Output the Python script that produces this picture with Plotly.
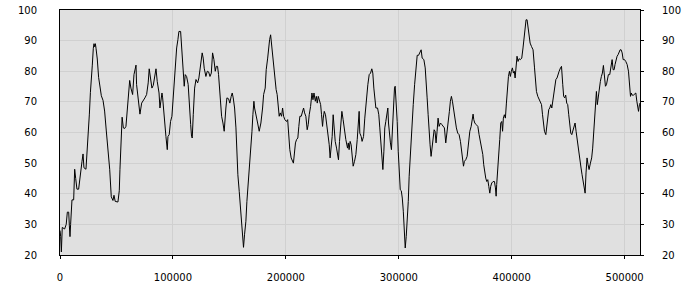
import plotly.graph_objects as go

x_vals = [
    0, 600, 1200, 2000, 4100, 5500, 6500, 7700, 8300, 8850, 9400, 10600, 12100, 13000, 13900, 15000,
    16500, 17700, 19500, 20400, 21200, 23000, 23900, 25100, 26000, 26900, 27700, 28600, 29500, 30100,
    30700, 31300, 31900, 33000, 34200, 35400, 36600, 38100, 39500, 41000, 42500, 44000, 45400, 46900,
    47800, 48900, 51300, 52500, 53100, 54300, 55000, 56100, 57200, 58400, 59600, 60800, 61700,
    62800, 64300, 65500, 66700, 67300, 67800, 69300, 70800, 72300, 73700, 75200, 76700, 78100, 79000,
    80200, 81400, 82600, 83800, 85000, 86100, 87000, 87700, 88500, 89400, 90300, 90900, 92000, 92900,
    93800, 95000, 95600, 96700, 97900, 99100, 100300, 101200, 102100, 103300, 104400, 105300, 106800,
    107700, 108600, 109400, 110000, 110900, 112100, 113500, 114400, 115700, 116500, 117100, 118000,
    119200, 120400, 121900, 123000, 123900, 124800, 125900, 126800,
    127700, 129200, 130400, 131600, 132800, 134000, 135100, 136300, 137500, 138400, 139500, 140400,
    141300, 142200, 143100, 144300, 145400, 146900, 147800, 149300, 150400, 151600, 152500, 153400,
    154600, 155800, 156600, 157500, 158700, 159900, 160800, 161700, 162500, 163400, 164600, 165500,
    166700, 167900, 168800, 170000, 170800, 171700, 172300, 173500, 175000, 176400, 177900, 179400,
    180300, 181700, 182600, 183900, 184700, 185600, 186500, 187300, 188500, 189700, 190600, 191400,
    192300, 193200, 194100, 195000, 196200, 197100, 198000, 199100, 200600, 201600, 202500, 203500,
    204700, 205900, 206700, 207600, 208500, 209500, 210600, 211500, 212400, 213600, 214800, 215700,
    216600, 217700, 218900, 219800, 220700, 221900, 223100, 224000, 224900, 226100, 227000, 227800,
    228700, 229800, 230800, 231600, 232500, 233100, 234000, 235100, 236000, 237200, 238400, 239200,
    240100, 241000, 241900, 242800, 243700, 244900, 245700, 246600, 247500, 248400, 249600, 250700,
    251900, 253100,
    254600, 255300, 256000, 256900, 257800, 258700, 259600, 260800, 262000, 263200, 264400, 264900,
    265500, 266700, 267500, 268800, 269900, 270800, 271700, 272600, 273800, 275000, 276100, 277000,
    277900, 278800, 279700, 281200, 282300, 283200, 284100, 285000, 285900, 286800, 287600, 288500,
    289400, 290300, 290900, 291800, 292600, 293500, 294400, 295300, 296200, 296800, 297700, 298600,
    299500, 300400, 301300, 302200, 303100, 304000, 304900, 305700, 306600, 307500, 308400, 309200,
    310400, 311600, 312800, 314000, 315100, 316300, 317500,
    318600, 319800, 320700, 322200, 323400, 324200, 325100, 326000, 326800, 327700, 328600, 329500,
    330400, 331300, 332100, 333000, 333900, 334800, 335700, 336900, 338100, 339200, 340400, 341600,
    342800, 343900, 344800, 345700, 346600, 347500, 348700, 349800, 351000, 352200, 353400, 354600,
    355500, 356400, 357300, 358100, 359300, 360500, 361700, 362900, 364100, 364900, 365800, 366400,
    367300, 368500, 370000, 371100, 372300, 373500, 374400, 375200, 376100, 377000, 377900, 378800,
    379700, 380600, 381400, 382300,
    383500, 384700, 385600, 386200, 386700, 387600, 388500, 389400, 390300, 391200, 391900, 392600,
    393500, 394400, 395300, 396200, 397100, 398000, 398800, 399700, 400600, 401500, 402300, 403000,
    403800, 404700, 405600, 406500, 407700, 408900, 410000, 410900, 411800, 412700, 413600, 414500,
    415400, 416300, 417500, 418900, 420200, 421000, 421900, 423100, 424300, 425500, 426400, 427300,
    428100, 429000, 430200, 431100, 432000, 432800, 433700, 434600, 435500, 436400, 437300, 438200,
    439100, 440100, 441100, 442000, 443200, 444100,
    445200, 446000, 446900, 447800, 448700, 449600, 450500, 451400, 452300, 453200, 454000, 455200,
    456100, 457000, 457900, 458800, 459700, 460500, 461400, 462300, 463200, 464100, 465000, 465800,
    466700, 467600, 468500, 469700, 470800, 471700, 472600, 473500, 474400, 475000, 475800, 476700,
    477600, 478500, 479400, 480300, 481200, 482100, 483000, 483900, 484800, 485600, 486800, 488000,
    488900, 489800, 490700, 491500, 492400, 493300, 494200, 495100, 496000, 496900, 497800, 498700,
    499900, 501000, 502200, 503400, 504300, 505200, 505900, 506600, 507800, 509000, 509900, 510800,
    511700, 512300, 513100, 513600,
]

y_vals = [
    28, 26, 21, 29, 28.5, 30, 34, 34, 29.5, 26, 30, 38, 38, 48, 45, 41.5,
    41.5, 46, 50.6, 53, 48.5, 48, 53, 59, 66, 73, 79, 82, 87.5, 89,
    88, 89, 87.5, 84, 78, 75, 72, 70.5, 67, 60.5, 54, 48, 39, 37.8,
    39.5, 37.5, 37.3, 41, 48, 63.5, 65, 61.5, 61.3, 62, 67, 72.5, 77,
    74.5, 72.4, 78.9, 81.6, 82, 75.7, 71.3, 66, 69.6, 70.7, 71.3, 72.4, 76.2, 80.8,
    76.7, 74.5, 75.4, 78.9, 80.8, 76.7, 74.5, 72.9, 68, 71.3, 72.9, 71.3, 65.8, 62.6,
    58.7, 54.4, 58.7, 59.3, 63.6, 65.3, 71.3, 76.7, 83.2, 87.6, 90.3, 93, 93,
    88.7, 83.2, 78.9, 75.1, 78.9, 78.3, 75.7, 69.1, 62.6, 58.7, 58.2, 65.8,
    74.5, 77.3, 76.2, 77.8, 80, 82.7, 86, 84.3,
    81, 78.3, 80, 79.8, 78.3, 79.4, 86, 83.8, 80, 81.6, 81.6, 78.9,
    75.1, 69.1, 65.3, 63.1, 60.4, 68, 71.3, 71, 69.6, 71.8, 72.9, 71.3,
    68, 61.5, 53.9, 46.2, 40.8, 35.3, 30.4, 26.6, 22.5, 26.6, 31, 37.5,
    43, 49.5, 53.9, 60.4, 65.8, 70.2, 68, 65.3, 63.1, 60.4, 63.1, 68,
    72.4, 74.5, 80.5, 84.3, 87.6, 90.3, 91.9, 88.7, 84.3, 80.5, 77.3, 74,
    72.4, 69.1, 65.3, 66.4, 65.3, 68, 65.3, 64.2, 63.6, 64.2, 58.7, 54.4,
    51.7, 50.6, 50, 53.3, 56.6, 57.7, 58.2, 62, 65.3, 65.3, 66.9, 68,
    66.4, 65.3, 60.9, 62.6, 65.8, 68.5, 72.9, 70.7, 72.9, 70.2, 71.8, 69.6,
    71.8, 70.2, 69.1, 65.8, 62, 64.7, 66.9, 65.8, 63.1, 59.8, 56, 51.7,
    54.9, 58.7, 65.8, 60.4, 57.1, 54.9, 53.3, 51.1, 57.1, 63.1, 66.9, 64.2,
    59.8, 57.7,
    54.9, 56.6, 54.4, 57.1, 56, 53.3, 49, 50.6, 52.8, 57.7, 63.1, 66.9,
    59.8, 58.7, 57.1, 58.7, 64.7, 69.1, 71.3, 75.6, 78.9, 79.4, 80.8, 79.4,
    74.5, 71.3, 68, 68, 65.8, 61.5, 57.1, 52.2, 47.9, 53.9, 61.5, 63.6,
    65.8, 68, 63.1, 57.7, 56.6, 54.4, 61.5, 68, 74.5, 75.1, 70.2, 63.6,
    53.9, 47.3, 41.3, 41, 38.6, 34.3, 28.3, 22.3, 26.1, 31, 37.5, 45.7,
    54.9, 63.1, 69.1, 75.6, 81.6, 85.2, 85.2,
    86.3, 87, 84.3, 83.8, 81.1, 74.5, 71.3, 65.8, 59.3, 56, 52.2, 56,
    59.3, 60.9, 60.4, 56.6, 60.4, 64.7, 62, 63.1, 62.6, 62, 61.5, 56.6,
    60.4, 62, 66.9, 70.2, 71.8, 70.2, 66.9, 64.7, 61.5, 59.8, 59.3, 57.1,
    53.9, 50.6, 49, 50.6, 51.1, 52.2, 57.1, 60.4, 62, 64.7, 66, 64.2,
    63.1, 62.6, 62, 59.3, 57.1, 53.9, 52.8, 49.5, 46.8, 45.1, 44, 44.6,
    42.4, 40.2, 42.4, 43.5,
    44, 44, 41.9, 39.2, 43, 49.5, 52.8, 57.7, 63.1, 63.6, 60.4, 64.7,
    65.8, 64.7, 69.6, 75.1, 78.3, 80, 78.3, 80, 81.1, 79.4, 80, 77.8,
    81.1, 84.9, 83.2, 84.1, 83.8, 84.3, 87.6, 91.4, 94.7, 96.8, 96.8, 94.1,
    91.9, 89.2, 88.1, 87, 81.1, 77.3, 73.4, 71.8, 70.7, 69.6, 69.1, 65.8,
    62, 60.4, 59.3, 62, 65.8, 67.5, 68, 69.1, 68, 70.2, 72.9, 76.2,
    77.3, 77.8, 79.4, 80, 81.1, 81.6,
    75.6, 71.8, 71.3, 72.2, 69.6, 69.1, 65.8, 62.6, 59.8, 59.3, 60.4, 62.6,
    63.1, 60.4, 57.7, 56, 52.2, 49.5, 48.4, 46.2, 44, 42.4, 40.2, 46.8,
    51.7, 49.5, 47.9, 50, 51.7, 54.9, 60.4, 65.8, 70.2, 73.4, 69.1, 72.4,
    74.5, 76.7, 78.3, 79.4, 81.9, 78.9, 75.1, 75.6, 77.3, 78.9, 78.9, 81.6,
    83.8, 80.5, 80.5, 82.2, 83.8, 84.9, 85.4, 86.5, 87, 87, 86, 83.8,
    83.8, 83.2, 82.2, 80, 75.6, 71.8, 72.9, 72.2, 72.2, 72.6, 72.9, 70.2,
    68.5, 66.9, 69.1, 69.6,
]

x_ticks = [0, 100000, 200000, 300000, 400000, 500000]
y_ticks = [20, 30, 40, 50, 60, 70, 80, 90, 100]

font = dict(family="DejaVu Sans, Verdana, sans-serif", size=10, color="#000000")

fig = go.Figure()
fig.add_trace(go.Scatter(x=x_vals, y=y_vals, mode="lines",
                         line=dict(color="#000000", width=1),
                         showlegend=False, hoverinfo="skip"))
fig.add_trace(go.Scatter(x=x_vals, y=y_vals, mode="lines", yaxis="y2",
                         line=dict(color="rgba(0,0,0,0)", width=1),
                         showlegend=False, hoverinfo="skip"))

fig.update_layout(
    template="none",
    width=700, height=300,
    margin=dict(l=60, r=60, t=10, b=45, pad=0),
    paper_bgcolor="#ffffff",
    plot_bgcolor="#e0e0e0",
    font=font,
    xaxis=dict(
        range=[0, 513600], tickvals=x_ticks, ticktext=[str(v) for v in x_ticks],
        showgrid=True, gridcolor="#d0d0d0", gridwidth=1,
        showline=True, linecolor="#000000", linewidth=1, mirror=True,
        ticks="outside", ticklen=3, tickcolor="#000000",
        ticklabelstandoff=10, zeroline=False, automargin=False, tickfont=font,
    ),
    yaxis=dict(
        range=[20, 100], tickvals=y_ticks,
        showgrid=True, gridcolor="#d0d0d0", gridwidth=1,
        showline=True, linecolor="#000000", linewidth=1, mirror=True,
        ticks="", ticklabelstandoff=20, zeroline=False, automargin=False, tickfont=font,
    ),
    yaxis2=dict(
        range=[20, 100], tickvals=y_ticks, overlaying="y", side="right",
        showgrid=False, showline=False, zeroline=False,
        ticks="outside", ticklen=3, tickcolor="#000000",
        ticklabelstandoff=16, automargin=False, tickfont=font,
    ),
)

fig.write_html("out.html")
